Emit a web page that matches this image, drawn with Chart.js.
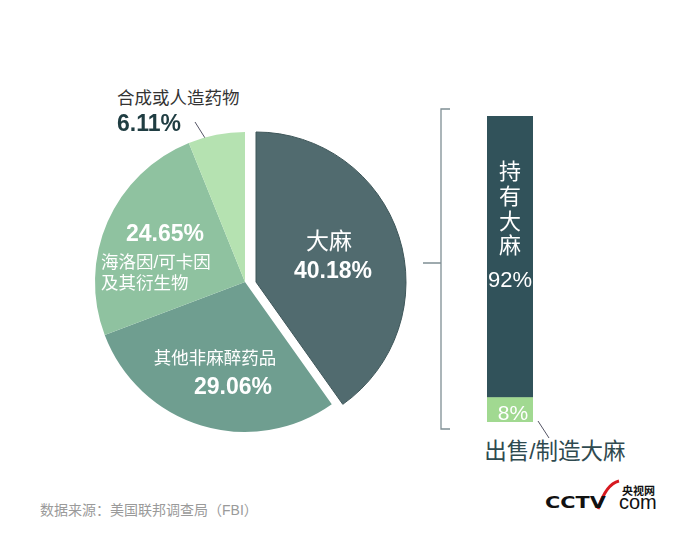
<!DOCTYPE html>
<html>
<head>
<meta charset="utf-8">
<script src="https://cdn.jsdelivr.net/npm/chart.js@4.4.0/dist/chart.umd.min.js"></script>
<style>
  body { margin: 0; background: #fff; width: 700px; height: 534px; position: relative; overflow: hidden;
         font-family: "Liberation Sans", "Noto Sans CJK SC", sans-serif; }
  canvas, svg { position: absolute; }
  .t { position: absolute; white-space: nowrap; line-height: 1; }
  .c { transform: translate(-50%, -50%); }
  .l { transform: translate(0, -50%); }
  .b { font-weight: bold; }
  .w { font-family: "DejaVu Sans"; transform: translate(0, -50%) scaleX(1.3); transform-origin: 0 50%; }
</style>
</head>
<body>
<svg width="700" height="534" style="left:0;top:0">
  <!-- bracket -->
  <path d="M450 109 H441 V429 H450 M441 263 H423" fill="none" stroke="#7f8f94" stroke-width="1.3"/>
  <!-- leader lines -->
  <path d="M195 122 L205 138" stroke="#556" stroke-width="1"/>
  <path d="M538 421 L549 438" stroke="#556" stroke-width="1"/>
  <!-- logo arc -->
  <path d="M598 509 Q606 484 619 481" fill="none" stroke="#d71920" stroke-width="3"/>
</svg>
<canvas id="pie" width="340" height="340" style="left:75px;top:112px"></canvas>
<canvas id="bar" width="46" height="306" style="left:487px;top:116px"></canvas>
<div id="labels"></div>
<script>
// pie: drug offence categories (%)
const pieLabels = ['大麻', '其他非麻醉药品', '海洛因/可卡因及其衍生物', '合成或人造药物'];
const pieValues = [40.18, 29.06, 24.65, 6.11];
const pieColors = ['#516b6f', '#6f9e90', '#8fc2a0', '#b5e2b1'];

// bar: breakdown of cannabis offences (%)
const barLabels = ['出售/制造大麻', '持有大麻'];
const barValues = [8, 92];
const barColors = ['#a1d991', '#31525a'];

const sourceText = '数据来源：美国联邦调查局（FBI）';

// pull the first slice out sideways (horizontal, not along its bisector)
const pullOut = {
  id: 'pullOut',
  beforeDatasetsDraw(chart) {
    const arcs = chart.getDatasetMeta(0).data;
    const cx = (chart.chartArea.left + chart.chartArea.right) / 2;
    arcs[0].x = cx + 11;
  }
};

new Chart(document.getElementById('pie'), {
  type: 'pie',
  data: {
    labels: pieLabels,
    datasets: [{
      data: pieValues,
      backgroundColor: pieColors,
      borderColor: pieValues.map((v, i) => i === 0 ? '#3e5659' : 'rgba(0,0,0,0)'),
      borderWidth: pieValues.map((v, i) => i === 0 ? 1 : 0)
    }]
  },
  options: {
    responsive: false, animation: false, devicePixelRatio: 1,
    radius: 150,
    layout: { padding: 0 },
    plugins: { legend: { display: false }, tooltip: { enabled: false } }
  },
  plugins: [pullOut]
});

new Chart(document.getElementById('bar'), {
  type: 'bar',
  data: {
    labels: [''],
    datasets: barValues.map((v, i) => ({
      label: barLabels[i],
      data: [v],
      backgroundColor: barColors[i],
      borderWidth: 0,
      barPercentage: 1,
      categoryPercentage: 1
    }))
  },
  options: {
    responsive: false, animation: false, devicePixelRatio: 1,
    layout: { padding: 0 },
    scales: {
      x: { stacked: true, display: false },
      y: { stacked: true, display: false, min: 0, max: 100 }
    },
    plugins: { legend: { display: false }, tooltip: { enabled: false } }
  }
});

// annotations
const texts = [
  // [text, x, y, size, color, cls]
  [pieLabels[0], 329, 241, 23, '#fff', 'c'],
  [pieValues[0].toFixed(2) + '%', 333, 270, 23, '#fff', 'c b'],
  [pieLabels[1], 215, 359, 17.5, '#fff', 'c'],
  [pieValues[1].toFixed(2) + '%', 233, 386, 23, '#fff', 'c b'],
  [pieValues[2].toFixed(2) + '%', 165, 233, 23, '#fff', 'c b'],
  ['海洛因/可卡因', 101, 263, 17.5, '#fff', 'l'],
  ['及其衍生物', 101, 284, 17.5, '#fff', 'l'],
  [pieLabels[3], 117, 99, 17.5, '#333', 'l'],
  [pieValues[3].toFixed(2) + '%', 117, 123, 23, '#1f3d42', 'l b'],
  ['持', 510, 172, 22, '#fff', 'c'],
  ['有', 510, 197, 22, '#fff', 'c'],
  ['大', 510, 222, 22, '#fff', 'c'],
  ['麻', 510, 246, 22, '#fff', 'c'],
  [barValues[1] + '%', 510, 280, 22, '#fff', 'c'],
  [barValues[0] + '%', 513, 412, 21, '#fff', 'c'],
  [barLabels[0], 555, 452, 22.5, '#2f4a50', 'c'],
  [sourceText, 40, 510, 14, '#9a9a9a', 'l'],
  ['CCTV', 545, 503, 16, '#111', 'w b'],
  ['央视网', 622, 491, 11, '#111', 'l b'],
  ['com', 619, 502, 20, '#111', 'l']
];
const box = document.getElementById('labels');
texts.forEach(([s, x, y, size, color, cls]) => {
  const d = document.createElement('div');
  d.className = 't ' + cls;
  d.textContent = s;
  d.style.left = x + 'px';
  d.style.top = y + 'px';
  d.style.fontSize = size + 'px';
  d.style.color = color;
  box.appendChild(d);
});
</script>
</body>
</html>
